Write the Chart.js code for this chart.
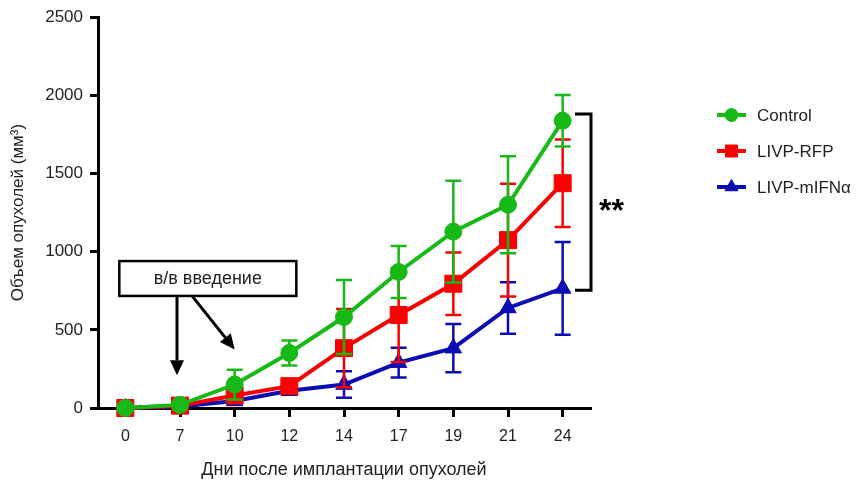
<!DOCTYPE html>
<html>
<head>
<meta charset="utf-8">
<script src="https://cdn.jsdelivr.net/npm/chart.js@4/dist/chart.umd.min.js"></script>
<style>
  html, body { margin: 0; padding: 0; background: #fff; }
  #wrap { width: 859px; height: 486px; }
</style>
</head>
<body>
<div id="wrap"><canvas id="chart" width="859" height="486"></canvas></div>
<script>
const days = ["0", "7", "10", "12", "14", "17", "19", "21", "24"];

const controlMean = [0, 20, 150, 352, 582, 870, 1128, 1300, 1838];
const controlErr  = [0, 15, 95, 80, 237, 167, 325, 310, 165];
const rfpMean     = [0, 15, 80, 140, 383, 595, 795, 1074, 1438];
const rfpErr      = [0, 10, 30, 30, 250, 300, 200, 360, 280];
const ifnMean     = [0, 10, 45, 110, 150, 290, 383, 640, 765];
const ifnErr      = [0, 5, 20, 25, 85, 95, 155, 165, 297];

const seriesNames = ["Control", "LIVP-RFP", "LIVP-mIFNα"];
const yTicks = [0, 500, 1000, 1500, 2000, 2500];

const green = "#17b917";
const red = "#fa0000";
const blue = "#0c0cb4";
const font = "'Liberation Sans', Arial, sans-serif";

function qs(selector) {
  return document.querySelector(selector);
}

// error bars are drawn right before each dataset so the stacking matches
const errorBars = {
  id: "errorBars",
  beforeDatasetDraw(chart, args) {
    let ds = chart.data.datasets[args.index];
    let meta = chart.getDatasetMeta(args.index);
    let y = chart.scales.y;
    let ctx = chart.ctx;
    ctx.save();
    ctx.strokeStyle = ds.borderColor;
    ctx.lineWidth = 2.5;
    meta.data.forEach((pt, i) => {
      let e = ds.err[i];
      if (!e) return;
      let top = y.getPixelForValue(ds.data[i] + e);
      let bot = y.getPixelForValue(ds.data[i] - e);
      ctx.beginPath();
      ctx.moveTo(pt.x, top); ctx.lineTo(pt.x, bot);
      ctx.moveTo(pt.x - 8, top); ctx.lineTo(pt.x + 8, top);
      ctx.moveTo(pt.x - 8, bot); ctx.lineTo(pt.x + 8, bot);
      ctx.stroke();
    });
    ctx.restore();
  }
};

function arrow(ctx, x1, y1, x2, y2) {
  let a = Math.atan2(y2 - y1, x2 - x1);
  let len = 15, w = 7;
  let bx = x2 - len * Math.cos(a), by = y2 - len * Math.sin(a);
  ctx.beginPath();
  ctx.moveTo(x1, y1); ctx.lineTo(bx, by);
  ctx.stroke();
  ctx.beginPath();
  ctx.moveTo(x2, y2);
  ctx.lineTo(bx + w * Math.sin(a), by - w * Math.cos(a));
  ctx.lineTo(bx - w * Math.sin(a), by + w * Math.cos(a));
  ctx.closePath();
  ctx.fill();
}

const extras = {
  id: "extras",
  afterDraw(chart) {
    let ctx = chart.ctx;
    let x = chart.scales.x, y = chart.scales.y;
    let area = chart.chartArea;
    ctx.save();
    ctx.strokeStyle = "#000";
    ctx.fillStyle = "#000";

    // injection box + arrows
    let bl = x.getPixelForValue(0) - 6, br = x.getPixelForValue(3) + 7;
    let bt = y.getPixelForValue(940), bb = y.getPixelForValue(717);
    ctx.lineWidth = 2.5;
    ctx.strokeRect(bl, bt, br - bl, bb - bt);
    ctx.font = "18px " + font;
    ctx.fillStyle = "#222";
    ctx.textAlign = "center";
    ctx.textBaseline = "middle";
    ctx.fillText("в/в введение", (bl + br) / 2, (bt + bb) / 2 + 1);
    ctx.fillStyle = "#000";
    ctx.lineWidth = 3;
    let x7 = x.getPixelForValue(1) - 3;
    arrow(ctx, x7, bb, x7, y.getPixelForValue(210));
    arrow(ctx, x7 + 15, bb, x.getPixelForValue(2), y.getPixelForValue(375));

    // significance bracket
    let bx = area.right + 1;
    let tTop = y.getPixelForValue(1880), tBot = y.getPixelForValue(754);
    ctx.lineWidth = 3;
    ctx.beginPath();
    ctx.moveTo(bx - 16, tTop); ctx.lineTo(bx, tTop);
    ctx.lineTo(bx, tBot); ctx.lineTo(bx - 16, tBot);
    ctx.stroke();
    ctx.font = "bold 32px " + font;
    ctx.textAlign = "left";
    ctx.fillText("**", bx + 8, (tTop + tBot) / 2 + 10);

    // legend: line with marker, then label
    let legendRadius = [6.5, 8.5, 7.5];
    ctx.font = "17px " + font;
    ctx.textBaseline = "middle";
    chart.data.datasets.forEach((ds, i) => {
      let ly = 115 + i * 36;
      ctx.strokeStyle = ds.borderColor;
      ctx.fillStyle = ds.borderColor;
      ctx.lineWidth = 4;
      ctx.beginPath();
      ctx.moveTo(717, ly); ctx.lineTo(746, ly);
      ctx.stroke();
      ctx.lineWidth = 1;
      Chart.helpers.drawPoint(ctx, { pointStyle: ds.pointStyle, radius: legendRadius[i], borderWidth: 1 }, 731.5, ly);
      ctx.fillStyle = "#222";
      ctx.fillText(ds.label, 757, ly + 1);
    });
    ctx.restore();
  }
};

function makeSet(label, data, err, color, style, radius) {
  return {
    label: label,
    data: data,
    err: err,
    borderColor: color,
    backgroundColor: color,
    pointBackgroundColor: color,
    pointBorderColor: color,
    borderWidth: 4,
    pointStyle: style,
    pointRadius: radius,
    pointHoverRadius: radius,
    pointBorderWidth: 1,
    tension: 0,
    clip: false
  };
}

new Chart(qs("#chart").getContext("2d"), {
  type: "line",
  data: {
    labels: days,
    datasets: [
      makeSet(seriesNames[0], controlMean, controlErr, green, "circle", 8.5),
      makeSet(seriesNames[1], rfpMean, rfpErr, red, "rect", 12),
      makeSet(seriesNames[2], ifnMean, ifnErr, blue, "triangle", 9.5)
    ]
  },
  options: {
    responsive: false,
    animation: false,
    events: [],
    layout: { padding: { top: 17, right: 269, left: 0, bottom: 0 } },
    plugins: {
      legend: { display: false },
      tooltip: { enabled: false }
    },
    scales: {
      x: {
        type: "category",
        offset: true,
        afterFit: s => { s.height = 78; },
        border: { display: true, color: "#000", width: 3 },
        grid: { display: true, drawOnChartArea: false, color: "#000", tickLength: 9, lineWidth: 3, offset: false },
        ticks: { color: "#222", font: { size: 16, family: font }, padding: 10, maxRotation: 0 },
        title: {
          display: true,
          text: "Дни после имплантации опухолей",
          color: "#222",
          font: { size: 18, family: font },
          padding: { top: 0, bottom: 5 }
        }
      },
      y: {
        min: 0,
        max: 2500,
        afterFit: s => { s.width = 98; },
        afterBuildTicks: s => { s.ticks = yTicks.map(v => ({ value: v })); },
        border: { display: true, color: "#000", width: 3 },
        grid: { display: true, drawOnChartArea: false, color: "#000", tickLength: 8, lineWidth: 3 },
        ticks: { color: "#222", font: { size: 17, family: font }, padding: 7, callback: v => String(v) },
        title: {
          display: true,
          text: "Объем опухолей (мм³)",
          color: "#222",
          font: { size: 17, family: font },
          padding: { top: 8, bottom: 0 }
        }
      }
    }
  },
  plugins: [errorBars, extras]
});
</script>
</body>
</html>
